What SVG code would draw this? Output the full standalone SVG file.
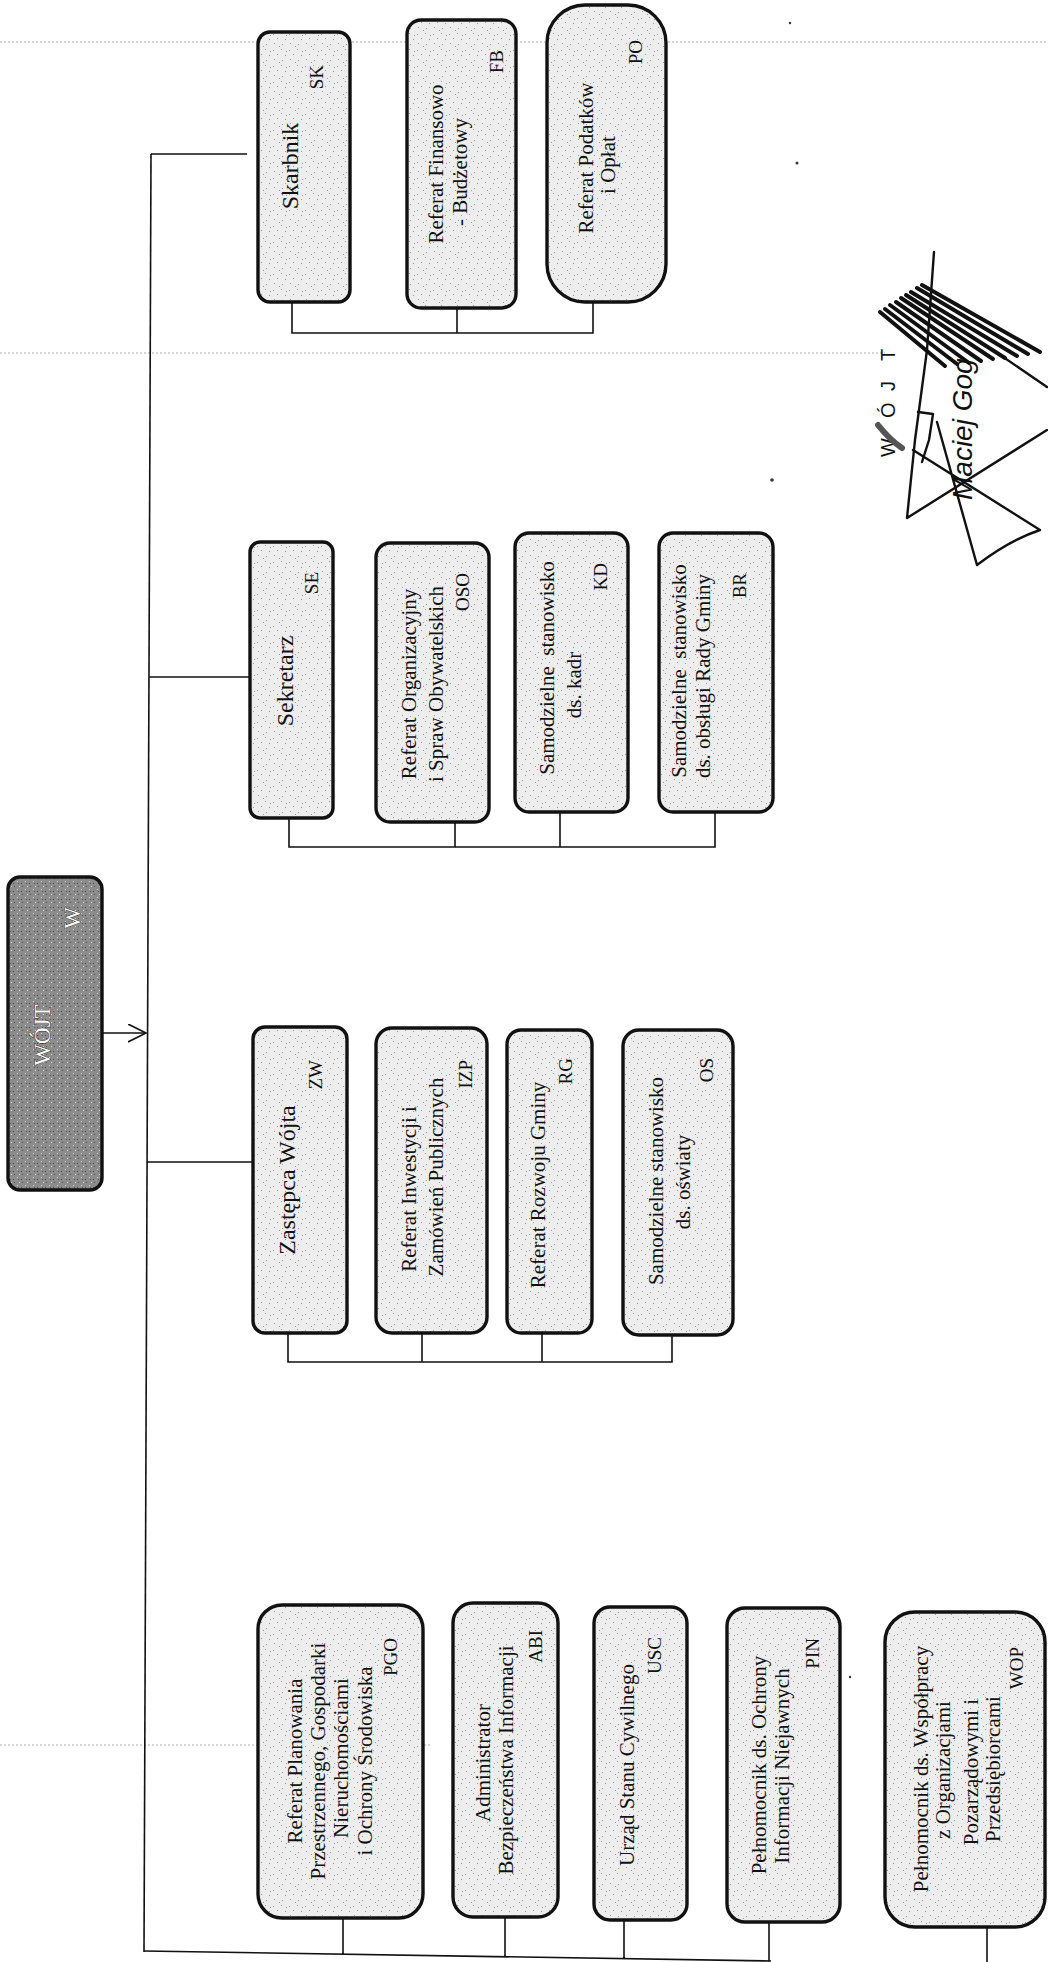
<svg xmlns="http://www.w3.org/2000/svg" width="1048" height="1962" viewBox="0 0 1048 1962">
<defs>
<pattern id="stip" width="16" height="16" patternUnits="userSpaceOnUse">
<rect width="16" height="16" fill="#ededed"/>
<g fill="#9a9a9a">
<rect x="1" y="2" width="1" height="1"/><rect x="9" y="1" width="1" height="1"/>
<rect x="5" y="6" width="1" height="1"/><rect x="13" y="7" width="1" height="1"/>
<rect x="2" y="11" width="1" height="1"/><rect x="10" y="12" width="1" height="1"/>
<rect x="7" y="14" width="1" height="1"/><rect x="14" y="3" width="1" height="1"/>
</g>
</pattern>
<pattern id="darkp" width="8" height="8" patternUnits="userSpaceOnUse">
<rect width="8" height="8" fill="#8c8c8c"/>
<rect x="1" y="1" width="1" height="1" fill="#d0d0d0"/>
<rect x="5" y="3" width="1" height="1" fill="#4a4a4a"/>
<rect x="3" y="6" width="1" height="1" fill="#d5d5d5"/>
<rect x="6" y="6" width="1" height="1" fill="#555"/>
<rect x="2" y="3" width="1" height="1" fill="#5a5a5a"/>
</pattern>
<marker id="arr" markerWidth="20" markerHeight="20" refX="18" refY="9" orient="auto" markerUnits="userSpaceOnUse">
<path d="M0,0 L18,9 L0,18" fill="none" stroke="#111" stroke-width="1.6"/>
</marker>
</defs>
<style>
.box{fill:url(#stip);stroke:#111;stroke-width:3.4}
.dark{fill:url(#darkp);stroke:#111;stroke-width:3.4}
.t{font-family:"Liberation Serif","Times New Roman",serif;font-size:21px;fill:#111;text-anchor:middle}
.h{font-size:24px}
.c{font-family:"Liberation Serif","Times New Roman",serif;font-size:19px;fill:#111;text-anchor:end}
.w{fill:#fff;stroke:#222;stroke-width:0.9;paint-order:stroke}
.ln{stroke:#111;stroke-width:1.6;fill:none}
.scan{stroke:#777;stroke-width:1;stroke-dasharray:2 2;opacity:0.6;fill:none}
.sig{stroke:#111;stroke-width:2.4;fill:none;stroke-linecap:round;stroke-linejoin:round}
</style>
<rect width="1048" height="1962" fill="#fff"/>

<g id="scan-marks">
<line class="scan" x1="0" y1="42" x2="1048" y2="42"/>
<line class="scan" x1="0" y1="353" x2="885" y2="353"/>
<line class="scan" x1="0" y1="1745" x2="430" y2="1745"/>
<g fill="#333"><circle cx="790" cy="23" r="1.2"/><circle cx="797" cy="163" r="1.5"/><circle cx="772" cy="480" r="1.8"/><circle cx="850" cy="1677" r="1.2"/></g>
</g>

<g id="connectors">
<line class="ln" x1="151" y1="154" x2="144" y2="1952"/>
<line class="ln" x1="151" y1="154" x2="247" y2="154"/>
<line class="ln" x1="149" y1="677" x2="249" y2="677"/>
<line class="ln" x1="147" y1="1162" x2="252" y2="1162"/>
<line class="ln" x1="102" y1="1033" x2="146" y2="1033" marker-end="url(#arr)"/>
<path class="ln" d="M292,302 V333 H593 V303 M457,308 V333"/>
<path class="ln" d="M289,818 V847 H715 V812 M455,822 V847 M560,812 V847"/>
<path class="ln" d="M288,1333 V1362 H672 V1335 M422,1333 V1362 M542,1333 V1362"/>
<path class="ln" d="M144,1951 L771,1961 M343,1918 V1954 M505,1917 V1956 M624,1920 V1959 M769,1922 V1961 M987,1927 V1962"/>
</g>

<g id="node-wojt">
<rect class="dark" x="8" y="877" width="94" height="313" rx="12"/>
<text class="t w" transform="rotate(-90)" x="-1035" y="50" style="font-size:23px">WÓJT</text>
<text class="c w" transform="rotate(-90)" x="-907" y="80" style="font-size:23px">W</text>
</g>

<g id="node-sk">
<rect class="box" x="258" y="32" width="92" height="270" rx="12"/>
<text class="t h" transform="rotate(-90)" x="-166" y="298">Skarbnik</text>
<text class="c" transform="rotate(-90)" x="-65" y="323">SK</text>
</g>
<g id="node-fb">
<rect class="box" x="407" y="20" width="109" height="288" rx="14"/>
<text class="t" transform="rotate(-90)"><tspan x="-164" y="443">Referat Finansowo</tspan><tspan x="-172" y="467">- Budżetowy</tspan></text>
<text class="c" transform="rotate(-90)" x="-50" y="503">FB</text>
</g>
<g id="node-po">
<rect class="box" x="547" y="5" width="119" height="297" rx="38"/>
<text class="t" transform="rotate(-90)"><tspan x="-158" y="593">Referat Podatków</tspan><tspan x="-165" y="615">i Opłat</tspan></text>
<text class="c" transform="rotate(-90)" x="-40" y="642">PO</text>
</g>

<g id="node-se">
<rect class="box" x="250" y="542" width="83" height="276" rx="10"/>
<text class="t h" transform="rotate(-90)" x="-681" y="293">Sekretarz</text>
<text class="c" transform="rotate(-90)" x="-572" y="318">SE</text>
</g>
<g id="node-oso">
<rect class="box" x="376" y="543" width="113" height="279" rx="14"/>
<text class="t" transform="rotate(-90)"><tspan x="-684" y="416">Referat Organizacyjny</tspan><tspan x="-684" y="443">i Spraw Obywatelskich</tspan></text>
<text class="c" transform="rotate(-90)" x="-573" y="469">OSO</text>
</g>
<g id="node-kd">
<rect class="box" x="515" y="533" width="113" height="279" rx="14"/>
<text class="t" transform="rotate(-90)"><tspan x="-668" y="554">Samodzielne&#160; stanowisko</tspan><tspan x="-685" y="581">ds. kadr</tspan></text>
<text class="c" transform="rotate(-90)" x="-563" y="607">KD</text>
</g>
<g id="node-br">
<rect class="box" x="659" y="533" width="114" height="279" rx="14"/>
<text class="t" transform="rotate(-90)"><tspan x="-671" y="686">Samodzielne&#160; stanowisko</tspan><tspan x="-676" y="710">ds. obsługi Rady Gminy</tspan></text>
<text class="c" transform="rotate(-90)" x="-573" y="746">BR</text>
</g>

<g id="node-zw">
<rect class="box" x="253" y="1027" width="94" height="306" rx="12"/>
<text class="t h" transform="rotate(-90)" x="-1180" y="295">Zastępca Wójta</text>
<text class="c" transform="rotate(-90)" x="-1060" y="322">ZW</text>
</g>
<g id="node-izp">
<rect class="box" x="376" y="1028" width="111" height="305" rx="16"/>
<text class="t" transform="rotate(-90)"><tspan x="-1189" y="416">Referat Inwestycji i</tspan><tspan x="-1177" y="443">Zamówień Publicznych</tspan></text>
<text class="c" transform="rotate(-90)" x="-1060" y="472">IZP</text>
</g>
<g id="node-rg">
<rect class="box" x="507" y="1030" width="85" height="303" rx="14"/>
<text class="t" transform="rotate(-90)" x="-1185" y="545">Referat Rozwoju Gminy</text>
<text class="c" transform="rotate(-90)" x="-1058" y="572">RG</text>
</g>
<g id="node-os">
<rect class="box" x="623" y="1030" width="110" height="305" rx="16"/>
<text class="t" transform="rotate(-90)"><tspan x="-1181" y="663">Samodzielne stanowisko</tspan><tspan x="-1182" y="690">ds. oświaty</tspan></text>
<text class="c" transform="rotate(-90)" x="-1058" y="713">OS</text>
</g>

<g id="node-pgo">
<rect class="box" x="258" y="1605" width="165" height="313" rx="24"/>
<text class="t" transform="rotate(-90)"><tspan x="-1761" y="302">Referat Planowania</tspan><tspan x="-1761" y="325">Przestrzennego, Gospodarki</tspan><tspan x="-1758" y="348">Nieruchomościami</tspan><tspan x="-1761" y="372">i Ochrony Środowiska</tspan></text>
<text class="c" transform="rotate(-90)" x="-1638" y="397">PGO</text>
</g>
<g id="node-abi">
<rect class="box" x="453" y="1603" width="105" height="314" rx="20"/>
<text class="t" transform="rotate(-90)"><tspan x="-1763" y="490">Administrator</tspan><tspan x="-1760" y="513">Bezpieczeństwa Informacji</tspan></text>
<text class="c" transform="rotate(-90)" x="-1630" y="542">ABI</text>
</g>
<g id="node-usc">
<rect class="box" x="594" y="1607" width="93" height="313" rx="16"/>
<text class="t" transform="rotate(-90)" x="-1765" y="634">Urząd Stanu Cywilnego</text>
<text class="c" transform="rotate(-90)" x="-1637" y="661">USC</text>
</g>
<g id="node-pin">
<rect class="box" x="727" y="1608" width="113" height="314" rx="18"/>
<text class="t" transform="rotate(-90)"><tspan x="-1765" y="766">Pełnomocnik ds. Ochrony</tspan><tspan x="-1766" y="789">Informacji Niejawnych</tspan></text>
<text class="c" transform="rotate(-90)" x="-1638" y="819">PIN</text>
</g>
<g id="node-wop">
<rect class="box" x="885" y="1612" width="160" height="315" rx="30"/>
<text class="t" transform="rotate(-90)"><tspan x="-1769" y="928">Pełnomocnik ds. Współpracy</tspan><tspan x="-1770" y="950">z Organizacjami</tspan><tspan x="-1772" y="978">Pozarządowymi i</tspan><tspan x="-1769" y="1000">Przedsiębiorcami</tspan></text>
<text class="c" transform="rotate(-90)" x="-1647" y="1023">WOP</text>
</g>

<g id="signature">
<text transform="rotate(-90)" style="font-family:'Liberation Sans',Arial,sans-serif;font-size:20px;fill:#111"><tspan x="-457" y="895">W</tspan><tspan x="-418" y="895">Ó</tspan><tspan x="-391" y="895">J</tspan><tspan x="-361" y="895">T</tspan></text>
<text transform="rotate(-90)" x="-500" y="972" style="font-family:'Liberation Sans',Arial,sans-serif;font-style:italic;font-size:28px;fill:#111">Maciej Gog</text>
<g class="sig" style="stroke-width:4">
<path d="M880,312 L945,366"/>
<path d="M885,309 L957,364"/>
<path d="M890,305 L969,363"/>
<path d="M896,302 L981,361"/>
<path d="M901,298 L993,359"/>
<path d="M906,295 L1005,358"/>
<path d="M911,292 L1017,356"/>
<path d="M917,288 L1028,354"/>
<path d="M922,285 L1040,352"/>
</g>
<path d="M878,425 Q890,440 902,448" style="stroke:#555;stroke-width:6;fill:none;stroke-linecap:round"/>
<path class="sig" d="M934,252 L927,350 L915,440 L907,518 L1047,430"/>
<path class="sig" d="M1047,387 L993,350"/>
<path class="sig" d="M913,450 L1040,530 Q1010,540 977,565 L937,422"/>
<path class="sig" d="M918,412 L933,414 L929,440 L922,462"/>
</g>
</svg>
